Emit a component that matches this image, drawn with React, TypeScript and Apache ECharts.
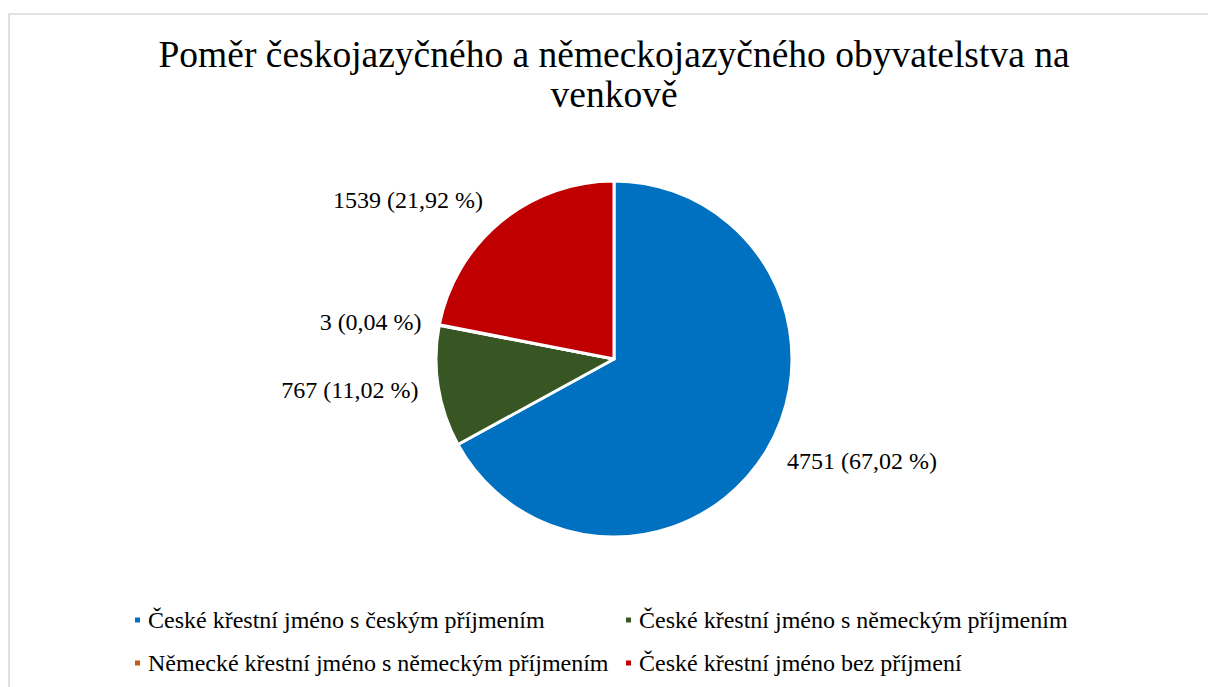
import React, { useEffect, useRef } from "react";
import * as echarts from "echarts";

const titleLines = ["Poměr českojazyčného a německojazyčného obyvatelstva na", "venkově"];
const categories = [
  "České křestní jméno s českým příjmením",
  "České křestní jméno s německým příjmením",
  "Německé křestní jméno s německým příjmením",
  "České křestní jméno bez příjmení",
];
const counts = [4751, 767, 3, 1539];
const shares = [67.02, 11.02, 0.04, 21.92];
const shareLabels = ["67,02", "11,02", "0,04", "21,92"];
const colors = ["#0070C0", "#375623", "#C55A11", "#C00000"];
const labelLengths = [23, 20, 18, 28];

const FONT = "'Liberation Serif', 'Times New Roman', serif";

export default function App() {
  const ref = useRef<HTMLDivElement>(null);
  useEffect(() => {
    if (!ref.current) return;
    const chart = echarts.init(ref.current, null, { renderer: "svg" });
    const data = categories.map((name, i) => ({
      name,
      value: shares[i],
      itemStyle: { color: colors[i] },
      labelLine: { show: false, length: labelLengths[i], length2: 0 },
    }));
    const legendBase = {
      orient: "vertical" as const,
      top: 608,
      padding: 0,
      itemWidth: 7,
      itemHeight: 7,
      itemGap: 19,
      icon: "rect",
      selectedMode: false,
      textStyle: {
        fontFamily: FONT,
        fontSize: 24,
        lineHeight: 24,
        color: "#000",
        padding: [0, 0, 0, 2],
      },
    };
    chart.setOption({
      animation: false,
      backgroundColor: "#fff",
      graphic: [
        {
          type: "rect",
          silent: true,
          shape: { x: 9, y: 14, width: 1300, height: 800 },
          style: { fill: "none", stroke: "#d9d9d9", lineWidth: 1.6 },
        },
      ],
      title: {
        text: titleLines.join("\n"),
        left: 614,
        textAlign: "center",
        top: 34,
        padding: 0,
        textStyle: {
          fontFamily: FONT,
          fontSize: 37.5,
          lineHeight: 40,
          fontWeight: "normal",
          color: "#000",
        },
      },
      legend: [
        { ...legendBase, left: 133, data: [categories[0], categories[2]] },
        { ...legendBase, left: 624, data: [categories[1], categories[3]] },
      ],
      series: [
        {
          type: "pie",
          center: [614, 359],
          radius: 178,
          startAngle: 90,
          clockwise: true,
          avoidLabelOverlap: false,
          itemStyle: { borderColor: "#fff", borderWidth: 3 },
          label: {
            show: true,
            position: "outside",
            distanceToLabelLine: 0,
            fontFamily: FONT,
            fontSize: 24,
            color: "#000",
            formatter: (p: any) => `${counts[p.dataIndex]} (${shareLabels[p.dataIndex]} %)`,
          },
          labelLine: { show: false },
          emphasis: { disabled: true },
          data,
        },
      ],
    });
    return () => chart.dispose();
  }, []);
  return (
    <div
      ref={ref}
      style={{ position: "absolute", left: 0, top: 0, width: 1208, height: 687 }}
    />
  );
}
